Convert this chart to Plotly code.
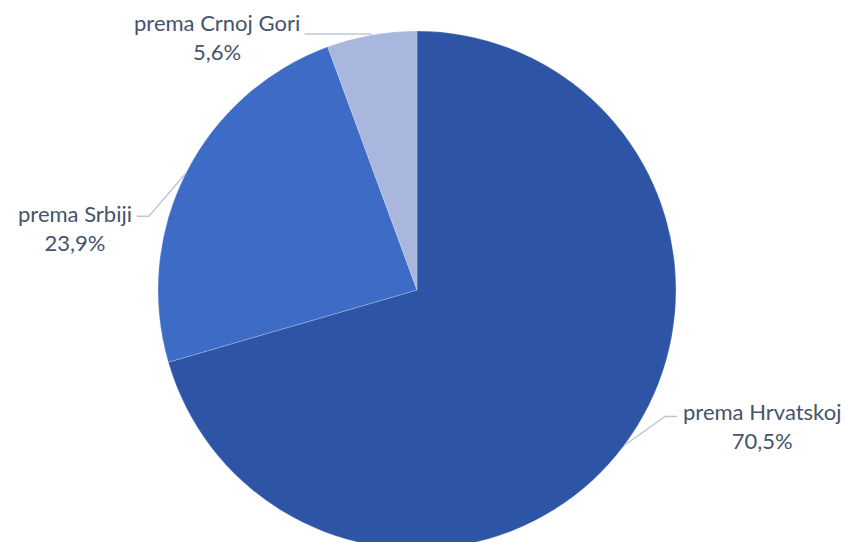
import math
import plotly.graph_objects as go

labels = ["prema Hrvatskoj", "prema Srbiji", "prema Crnoj Gori"]
values = [70.5, 23.9, 5.6]
value_text = ["70,5%", "23,9%", "5,6%"]
colors = ["#2E55A5", "#3D6BC6", "#A9B6DE"]

W, H = 845, 580          # figure taller than the window; bottom of pie is cropped like the reference
cx, cy, R = 417, 290, 259  # pixel layout of the pie

fig = go.Figure(go.Pie(
    labels=labels, values=values, sort=False, direction="clockwise", rotation=0,
    marker=dict(colors=colors, line=dict(color="rgba(255,255,255,0.35)", width=0.6)),
    textinfo="none", hoverinfo="label+percent", showlegend=False,
    domain=dict(x=[(cx - R) / W, (cx + R) / W], y=[1 - (cy + R) / H, 1 - (cy - R) / H]),
))

# label layout offsets (style only): elbow offset, horizontal run, text side, vertical text shift
label_style = [
    dict(elbow=(41, 29), run=12, side="right", ys=-9),    # Hrvatskoj
    dict(elbow=(-37, -43), run=-12, side="left", ys=-12),  # Srbiji
    dict(elbow=(-2, 1), run=-65, side="left", ys=-3),     # Crnoj Gori
]

total = sum(values)
cum = 0
shapes = []
annotations = []
for lab, v, vt, st in zip(labels, values, value_text, label_style):
    mid = (cum + v / 2) / total * 2 * math.pi
    cum += v
    ex = cx + R * math.sin(mid)
    ey = cy - R * math.cos(mid)
    bx, by = ex + st["elbow"][0], ey - st["elbow"][1]
    tx = bx + st["run"]
    pts = [(ex, ey), (bx, by), (tx, by)]
    path = "M " + " L ".join(f"{x / W},{1 - y / H}" for x, y in pts)
    shapes.append(dict(type="path", path=path, xref="paper", yref="paper",
                       line=dict(color="#BFC8D6", width=1.5)))
    annotations.append(dict(
        x=tx / W, y=1 - by / H, xref="paper", yref="paper",
        text=f"{lab}<br>{vt}", showarrow=False, align="center",
        xanchor="left" if st["side"] == "right" else "right",
        yanchor="middle", yshift=st["ys"], xshift=4 if st["side"] == "right" else -3,
        font=dict(family="Lato, Carlito, sans-serif", size=22, color="#44546A"),
    ))

fig.update_layout(
    width=W, height=H, margin=dict(l=0, r=0, t=0, b=0),
    paper_bgcolor="white", plot_bgcolor="white",
    shapes=shapes, annotations=annotations,
)
fig.write_html(
    "out.html",
    config={"displayModeBar": False},
    post_script="document.body.style.margin='0';"
                "document.body.style.overflow='hidden';"
                "document.documentElement.style.overflow='hidden';",
)
